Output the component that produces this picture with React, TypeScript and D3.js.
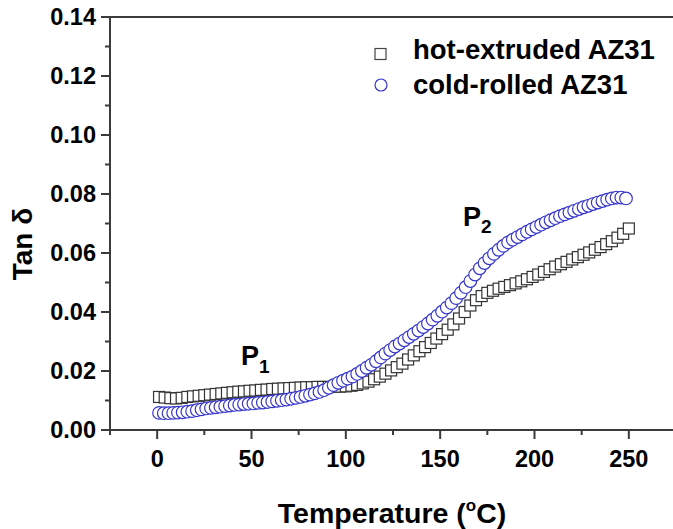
import React from "react";
import * as d3 from "d3";

const W = 673;
const H = 529;

const xTicks = [0, 50, 100, 150, 200, 250];
const xMinorTicks = [-25, 25, 75, 125, 175, 225];
const yTicks = [0, 0.02, 0.04, 0.06, 0.08, 0.1, 0.12, 0.14];
const yMinorTicks = [0.01, 0.03, 0.05, 0.07, 0.09, 0.11, 0.13];

const seriesNames = ["hot-extruded AZ31", "cold-rolled AZ31"];

// hot-extruded: temperatures start at 1 °C, every 3 °C
const hotStart = 1;
const hotStep = 3;
const hotValues = [
  0.0112, 0.011, 0.0108, 0.0107, 0.0109, 0.0112, 0.0114, 0.0116, 0.0118, 0.012,
  0.0122, 0.0124, 0.0126, 0.0128, 0.013, 0.0131, 0.0133, 0.0134, 0.0136, 0.0137,
  0.0139, 0.014, 0.0141, 0.0142, 0.0143, 0.0144, 0.0145, 0.0145, 0.0146, 0.0146,
  0.0146, 0.0147, 0.0147, 0.0148, 0.015, 0.0153, 0.0158, 0.0164, 0.0172, 0.0181,
  0.0191, 0.0202, 0.0213, 0.0225, 0.0239, 0.0253, 0.0267, 0.0281, 0.0295, 0.031,
  0.0325, 0.034, 0.0358, 0.0378, 0.04, 0.0422, 0.044, 0.0454, 0.0465, 0.0472,
  0.0479, 0.0485, 0.0491, 0.0497, 0.0504, 0.0511, 0.0519, 0.0527, 0.0536, 0.0545,
  0.0554, 0.0562, 0.057, 0.0578, 0.0586, 0.0594, 0.0602, 0.0611, 0.062, 0.063,
  0.064, 0.0652, 0.0665, 0.0683,
];

// cold-rolled: temperatures start at 1 °C, every 2.5 °C
const coldStart = 1;
const coldStep = 2.5;
const coldValues = [
  0.0058, 0.0057, 0.0057, 0.0058, 0.0059, 0.006, 0.0062, 0.0064, 0.0067, 0.007,
  0.0073, 0.0075, 0.0077, 0.0079, 0.0081, 0.0083, 0.0085, 0.0086, 0.0088, 0.0089,
  0.009, 0.0092, 0.0093, 0.0095, 0.0097, 0.0099, 0.0101, 0.0103, 0.0106, 0.0109,
  0.0112, 0.0116, 0.012, 0.0124, 0.0129, 0.0135, 0.0143, 0.0152, 0.016, 0.0167,
  0.0174, 0.0181, 0.019, 0.02, 0.0211, 0.0221, 0.0233, 0.0246, 0.0259, 0.0271,
  0.0283, 0.0293, 0.0304, 0.0315, 0.0326, 0.0337, 0.0349, 0.0361, 0.0374, 0.0387,
  0.0401, 0.0415, 0.043, 0.0447, 0.0465, 0.0484, 0.0505, 0.0527, 0.0548, 0.0566,
  0.0582, 0.0597, 0.0611, 0.0624, 0.0636, 0.0645, 0.0654, 0.0663, 0.0672, 0.068,
  0.0688, 0.0696, 0.0704, 0.0711, 0.0718, 0.0725, 0.0731, 0.0737, 0.0743, 0.0749,
  0.0755, 0.076, 0.0766, 0.0771, 0.0776, 0.0781, 0.0785, 0.0788, 0.0788, 0.0785,
];

const FONT = "'Liberation Sans', Arial, Helvetica, sans-serif";
const AXIS = "#3a3a3a";
const SQ = "#333333";
const BLUE = "#3535cc";

export default function App() {
  const x = d3.scaleLinear().domain([-25, 275]).range([110, 676]);
  const y = d3.scaleLinear().domain([0, 0.14]).range([430, 17]);
  const x0 = 110;
  const y0 = 430;
  const fmt = d3.format(".2f");

  const hot = hotValues.map((v, i) => ({ t: hotStart + i * hotStep, v }));
  const cold = coldValues.map((v, i) => ({ t: coldStart + i * coldStep, v }));
  const s = 11;
  const r = 6.3;

  return (
    <svg
      width={W}
      height={H}
      style={{ position: "fixed", left: 0, top: 0, background: "#fff" }}
      fontFamily={FONT}
      fontWeight="bold"
    >
      <rect x={0} y={0} width={W} height={H} fill="#fff" />

      {/* data: hot-extruded squares */}
      {hot.map((d, i) => (
        <rect
          key={"h" + i}
          x={x(d.t) - s / 2}
          y={y(d.v) - s / 2}
          width={s}
          height={s}
          fill="#fff"
          stroke={SQ}
          strokeWidth={1.2}
        />
      ))}
      {/* data: cold-rolled circles */}
      {cold.map((d, i) => (
        <circle
          key={"c" + i}
          cx={x(d.t)}
          cy={y(d.v)}
          r={r}
          fill="#fff"
          stroke={BLUE}
          strokeWidth={1.2}
        />
      ))}

      {/* axes frame */}
      <line x1={x0} y1={y(0.14)} x2={W} y2={y(0.14)} stroke={AXIS} strokeWidth={2} />
      <line x1={x0} y1={y0} x2={W} y2={y0} stroke={AXIS} strokeWidth={2} />
      <line x1={x0} y1={y(0.14) - 1} x2={x0} y2={y0 + 1} stroke={AXIS} strokeWidth={2} />

      {/* y ticks */}
      {yTicks.map((t) => (
        <g key={"yt" + t}>
          <line x1={x0 - 9} x2={x0} y1={y(t)} y2={y(t)} stroke={AXIS} strokeWidth={2} />
          <text x={96} y={y(t) + 8} textAnchor="end" fontSize={23.5} fill="#000">
            {fmt(t)}
          </text>
        </g>
      ))}
      {yMinorTicks.map((t) => (
        <line key={"ym" + t} x1={x0 - 5} x2={x0} y1={y(t)} y2={y(t)} stroke={AXIS} strokeWidth={2} />
      ))}

      {/* x ticks */}
      {xTicks.map((t) => (
        <g key={"xt" + t}>
          <line x1={x(t)} x2={x(t)} y1={y0} y2={y0 + 9} stroke={AXIS} strokeWidth={2} />
          <text x={x(t)} y={467} textAnchor="middle" fontSize={23.5} fill="#000">
            {t}
          </text>
        </g>
      ))}
      {xMinorTicks.map((t) => (
        <line key={"xm" + t} x1={x(t)} x2={x(t)} y1={y0} y2={y0 + 5} stroke={AXIS} strokeWidth={2} />
      ))}

      {/* axis titles */}
      <text x={392} y={523} textAnchor="middle" fontSize={28.5} fill="#000">
        Temperature (
        <tspan fontSize={17} dy={-12}>o</tspan>
        <tspan dy={12}>C)</tspan>
      </text>
      <text
        transform={`translate(32, 244) rotate(-90)`}
        textAnchor="middle"
        fontSize={28}
        fill="#000"
      >
        Tan δ
      </text>

      {/* peak labels */}
      <text x={241} y={365} fontSize={27} fill="#000">
        P<tspan fontSize={19} dy={8}>1</tspan>
      </text>
      <text x={463} y={226} fontSize={27} fill="#000">
        P<tspan fontSize={19} dy={7}>2</tspan>
      </text>

      {/* legend */}
      <rect x={375} y={48.5} width={11} height={11} fill="#fff" stroke="#444" strokeWidth={1.2} />
      <text x={413} y={59} fontSize={27.5} fill="#000">
        {seriesNames[0]}
      </text>
      <circle cx={381} cy={85} r={6} fill="#fff" stroke={BLUE} strokeWidth={1.2} />
      <text x={413} y={94} fontSize={27.5} fill="#000">
        {seriesNames[1]}
      </text>
    </svg>
  );
}
